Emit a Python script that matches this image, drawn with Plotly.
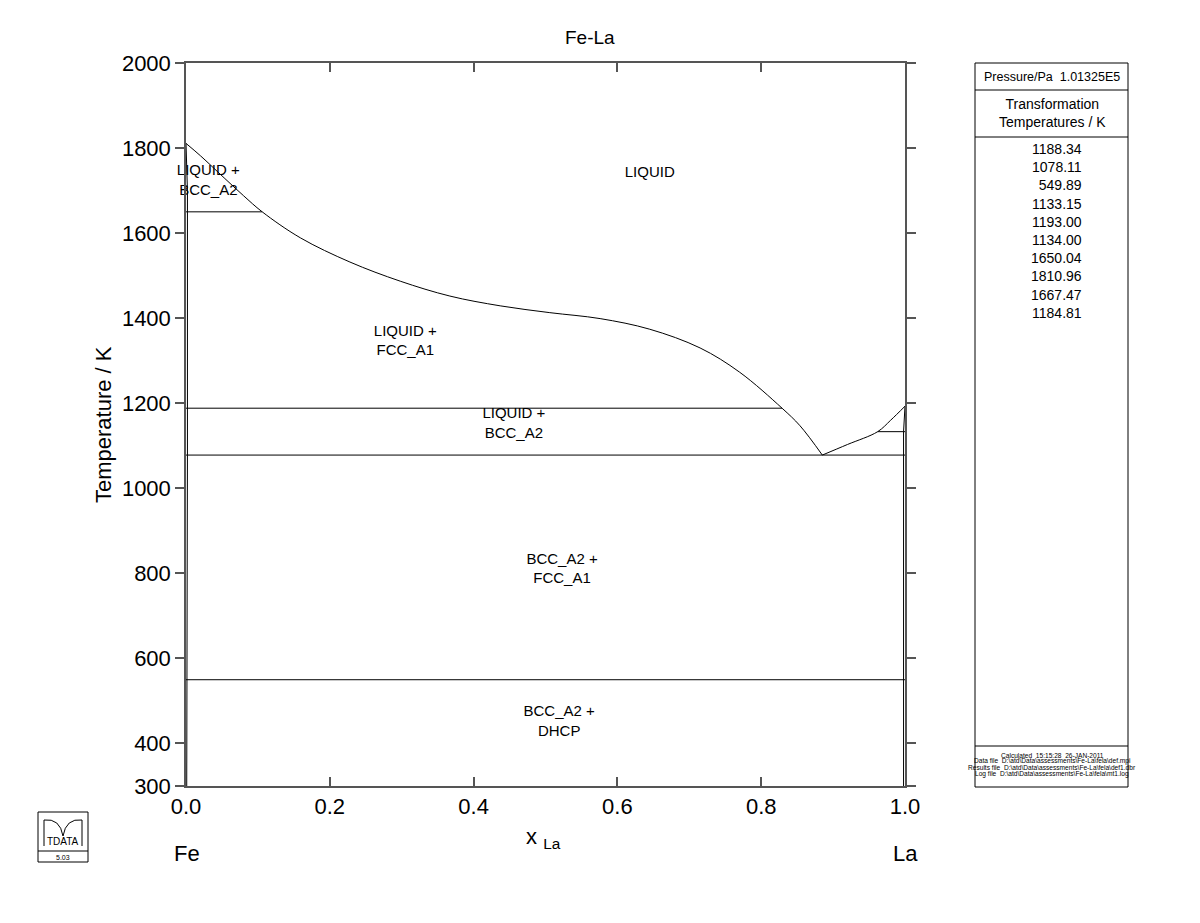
import plotly.graph_objects as go

# ---------------- data ----------------
liq_left_x = [0.0, 0.02, 0.053, 0.08, 0.106, 0.159, 0.228, 0.298, 0.367, 0.437, 0.506,
              0.576, 0.645, 0.715, 0.77, 0.829, 0.854, 0.885]
liq_left_T = [1810.96, 1782, 1730, 1688, 1650.04, 1589, 1532, 1487, 1452, 1429, 1413,
              1399, 1374, 1330, 1273, 1188.34, 1147, 1078.11]
liq_right_x = [0.885, 0.92, 0.962, 0.98, 1.0]
liq_right_T = [1078.11, 1103, 1133.15, 1160, 1193.0]

# invariant lines: (x_start, x_end, T)
inv_x0 = [0.0, 0.0, 0.0, 0.0, 0.962]
inv_x1 = [0.106, 0.829, 1.0, 1.0, 1.0]
inv_T = [1650.04, 1188.34, 1078.11, 549.89, 1133.15]

# terminal solubility boundaries
fe_solvus_x = [0.0, 0.002, 0.002, 0.001]
fe_solvus_T = [1810.96, 1700, 1078.11, 300]
la_solvus_x = [1.0, 0.998, 0.998, 0.998]
la_solvus_T = [1193.0, 1133.15, 1078.11, 300]

region_labels = ["LIQUID", "LIQUID +<br>BCC_A2", "LIQUID +<br>FCC_A1", "LIQUID +<br>BCC_A2",
                 "BCC_A2 +<br>FCC_A1", "BCC_A2 +<br>DHCP"]
label_x = [0.645, 0.031, 0.305, 0.456, 0.523, 0.519]
label_T = [1741, 1722, 1344, 1151, 808, 450]

transformation_T = ["1188.34", "1078.11", "549.89", "1133.15", "1193.00", "1134.00",
                    "1650.04", "1810.96", "1667.47", "1184.81"]

footer_lines = ["Calculated  15:15:28  26-JAN-2011",
                "Data file  D:\\atd\\Data\\assessments\\Fe-La\\fela\\def.mpi",
                "Results file  D:\\atd\\Data\\assessments\\Fe-La\\fela\\def1.dbr",
                "Log file  D:\\atd\\Data\\assessments\\Fe-La\\fela\\mt1.log"]

x_ticks = [0.0, 0.2, 0.4, 0.6, 0.8, 1.0]
y_ticks = [300, 400, 600, 800, 1000, 1200, 1400, 1600, 1800, 2000]

# ---------------- figure ----------------
OFF = 8  # default page body margin
W, H = 1200 - OFF, 923 - OFF
L, R, T, B = 186, 905, 63, 786  # absolute pixel positions of plot area


def px(x):
    return (x - L) / (R - L)


def py(y):
    return (B - y) / (B - T)


FONT = "Liberation Sans, Arial, sans-serif"
line_style = dict(color="black", width=1)

fig = go.Figure()
fig.add_trace(go.Scatter(x=liq_left_x, y=liq_left_T, mode="lines", line=line_style,
                         line_shape="spline", hoverinfo="skip"))
fig.add_trace(go.Scatter(x=liq_right_x, y=liq_right_T, mode="lines", line=line_style,
                         line_shape="spline", hoverinfo="skip"))
for a, b, t in zip(inv_x0, inv_x1, inv_T):
    fig.add_trace(go.Scatter(x=[a, b], y=[t, t], mode="lines", line=line_style, hoverinfo="skip"))
fig.add_trace(go.Scatter(x=fe_solvus_x, y=fe_solvus_T, mode="lines", line=line_style, hoverinfo="skip"))
fig.add_trace(go.Scatter(x=la_solvus_x, y=la_solvus_T, mode="lines", line=line_style, hoverinfo="skip"))

fig.add_trace(go.Scatter(x=label_x, y=label_T, mode="text", text=region_labels,
                         textfont=dict(family=FONT, size=15, color="black"),
                         textposition="middle center", hoverinfo="skip", cliponaxis=False))

axis_common = dict(showgrid=False, zeroline=False, showline=True, linecolor="#555",
                   linewidth=1.5, mirror="ticks", tickcolor="#555", tickwidth=1.5,
                   tickfont=dict(family=FONT, size=22, color="black"))

fig.update_xaxes(range=[0, 1], tickvals=x_ticks, ticktext=[f"{v:.1f}" for v in x_ticks],
                 ticks="inside", ticklen=9, **axis_common)
fig.update_yaxes(range=[300, 2000], tickvals=y_ticks, ticks="outside", ticklen=9, **axis_common)

shapes = []
annotations = []


def rect(x0, y0, x1, y1, w=1):
    shapes.append(dict(type="rect", xref="paper", yref="paper", x0=px(x0), x1=px(x1),
                       y0=py(y0), y1=py(y1), line=dict(color="black", width=w)))


def hline(x0, x1, y, w=1):
    shapes.append(dict(type="line", xref="paper", yref="paper", x0=px(x0), x1=px(x1),
                       y0=py(y), y1=py(y), line=dict(color="black", width=w)))


def text(x, y, s, size, xanchor="center", align="center", yanchor="middle", angle=0):
    annotations.append(dict(xref="paper", yref="paper", x=px(x), y=py(y), text=s,
                            showarrow=False, xanchor=xanchor, yanchor=yanchor, align=align,
                            textangle=angle,
                            font=dict(family=FONT, size=size, color="black")))


# titles
text(590, 38, "Fe-La", 19)
text(103, 425, "Temperature / K", 22, angle=-90)
text(543, 838, "x <sub>La</sub>", 22)
text(187, 853, "Fe", 22)
text(905, 853, "La", 22)

# side panel
rect(975, 63, 1128, 787)
hline(975, 1128, 90)
hline(975, 1128, 137)
hline(975, 1128, 746)
text(1052, 76.5, "Pressure/Pa  1.01325E5", 12.5)
text(1052, 113, "Transformation<br>Temperatures / K", 14)
text(1084, 139, "<br>".join(transformation_T), 14, xanchor="right", align="right", yanchor="top")
for i, s in enumerate(footer_lines):
    text(1052, 755 + i * 6.4, s, 6.6)

# TDATA logo
rect(38, 812, 88, 862)
hline(38, 88, 851)
text(63, 857, "5.03", 7)
text(63, 841, "TDATA", 10)
shapes.append(dict(type="path", xref="paper", yref="paper",
                   path=f"M {px(44)},{py(820)} Q {px(60)},{py(818)} {px(63)},{py(836)} "
                        f"Q {px(66)},{py(818)} {px(82)},{py(820)}",
                   line=dict(color="black", width=1)))
shapes.append(dict(type="line", xref="paper", yref="paper", x0=px(44), x1=px(44),
                   y0=py(820), y1=py(846), line=dict(color="black", width=1)))
shapes.append(dict(type="line", xref="paper", yref="paper", x0=px(82), x1=px(82),
                   y0=py(820), y1=py(846), line=dict(color="black", width=1)))

fig.update_layout(width=W, height=H,
                  margin=dict(l=L - OFF, r=W - (R - OFF), t=T - OFF, b=H - (B - OFF)),
                  paper_bgcolor="white", plot_bgcolor="white", showlegend=False,
                  shapes=shapes, annotations=annotations,
                  font=dict(family=FONT, color="black"))

fig.write_html("out.html")
